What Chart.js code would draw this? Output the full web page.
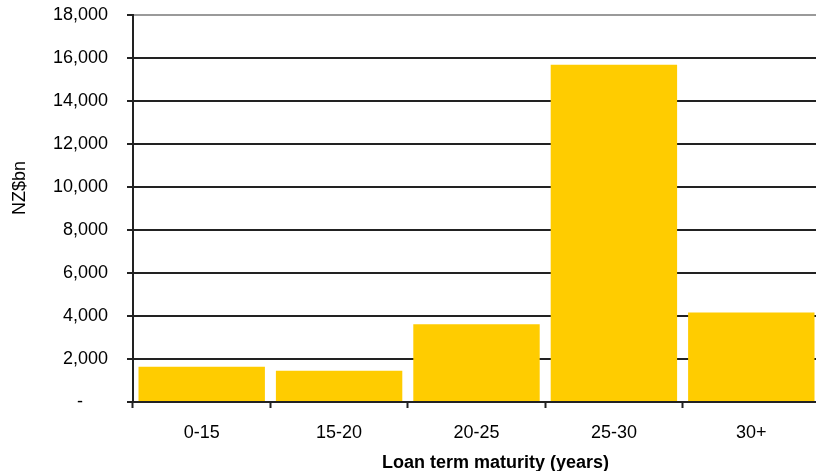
<!DOCTYPE html>
<html>
<head>
<meta charset="utf-8">
<script src="https://cdn.jsdelivr.net/npm/chart.js@4/dist/chart.umd.min.js"></script>
<style>
  html, body { margin: 0; padding: 0; background: #fff; overflow: hidden; }
  #wrap { width: 822px; height: 471px; }
</style>
</head>
<body>
<div id="wrap"><canvas id="chart"></canvas></div>
<script>
// loan book split by term to maturity
const categorias = ['0-15', '15-20', '20-25', '25-30', '30+'];
const valores = [1640, 1450, 3620, 15690, 4160];
const tituloX = 'Loan term maturity (years)';
const tituloY = 'NZ$bn';

const FONTE = 'Liberation Sans, Arial, sans-serif';

// titulos dos eixos desenhados a mao (nao ficam centrados no grafico)
const titulosEixos = {
    id: 'titulosEixos',
    afterDraw(chart) {
        const { ctx, chartArea } = chart;
        ctx.save();
        ctx.fillStyle = '#000';
        ctx.font = 'bold 18px ' + FONTE;
        ctx.textAlign = 'center';
        ctx.textBaseline = 'middle';
        ctx.fillText(tituloX, (chartArea.left + chartArea.right) / 2 + 19, chartArea.bottom + 61);

        ctx.font = '18px ' + FONTE;
        ctx.translate(20, chartArea.top + 173);
        ctx.rotate(-Math.PI / 2);
        ctx.fillText(tituloY, 0, 0);
        ctx.restore();
    }
};

const ctx = document.getElementById('chart').getContext('2d');
new Chart(ctx, {
    type: 'bar',
    data: {
        labels: categorias,
        datasets: [{
            data: valores,
            backgroundColor: '#FFCC00',
            borderWidth: 0,
            barPercentage: 0.92,
            categoryPercentage: 1.0
        }]
    },
    options: {
        responsive: true,
        maintainAspectRatio: false,
        animation: false,
        layout: { padding: { top: 15, right: 2, left: 0, bottom: 0 } },
        plugins: {
            legend: { display: false },
            tooltip: { enabled: false }
        },
        scales: {
            x: {
                offset: true,
                grid: {
                    offset: true,
                    drawOnChartArea: false,
                    drawTicks: true,
                    tickLength: 6,
                    tickColor: '#222',
                    tickWidth: 2
                },
                border: { display: true, color: '#222', width: 2 },
                ticks: {
                    color: '#000',
                    font: { family: FONTE, size: 18 },
                    padding: 14,
                    maxRotation: 0
                },
                afterFit(scale) { scale.height = 69; }
            },
            y: {
                min: 0,
                max: 18000,
                grid: {
                    color: ctx => ctx.tick && ctx.tick.value === 18000 ? '#9a9a9a' : '#222',
                    lineWidth: 2,
                    tickLength: 6,
                    tickColor: '#222',
                    tickWidth: 2
                },
                border: { display: true, color: '#222', width: 2 },
                ticks: {
                    stepSize: 2000,
                    color: '#000',
                    font: { family: FONTE, size: 18 },
                    padding: 19,
                    callback: v => v === 0 ? '-     ' : v.toLocaleString('en-US')
                },
                afterFit(scale) {
                    scale.width = 133;
                    // o padding dos rotulos nao deve empurrar a area do grafico
                    scale.paddingTop = 0;
                    scale.paddingBottom = 0;
                }
            }
        }
    },
    plugins: [titulosEixos]
});
</script>
</body>
</html>
